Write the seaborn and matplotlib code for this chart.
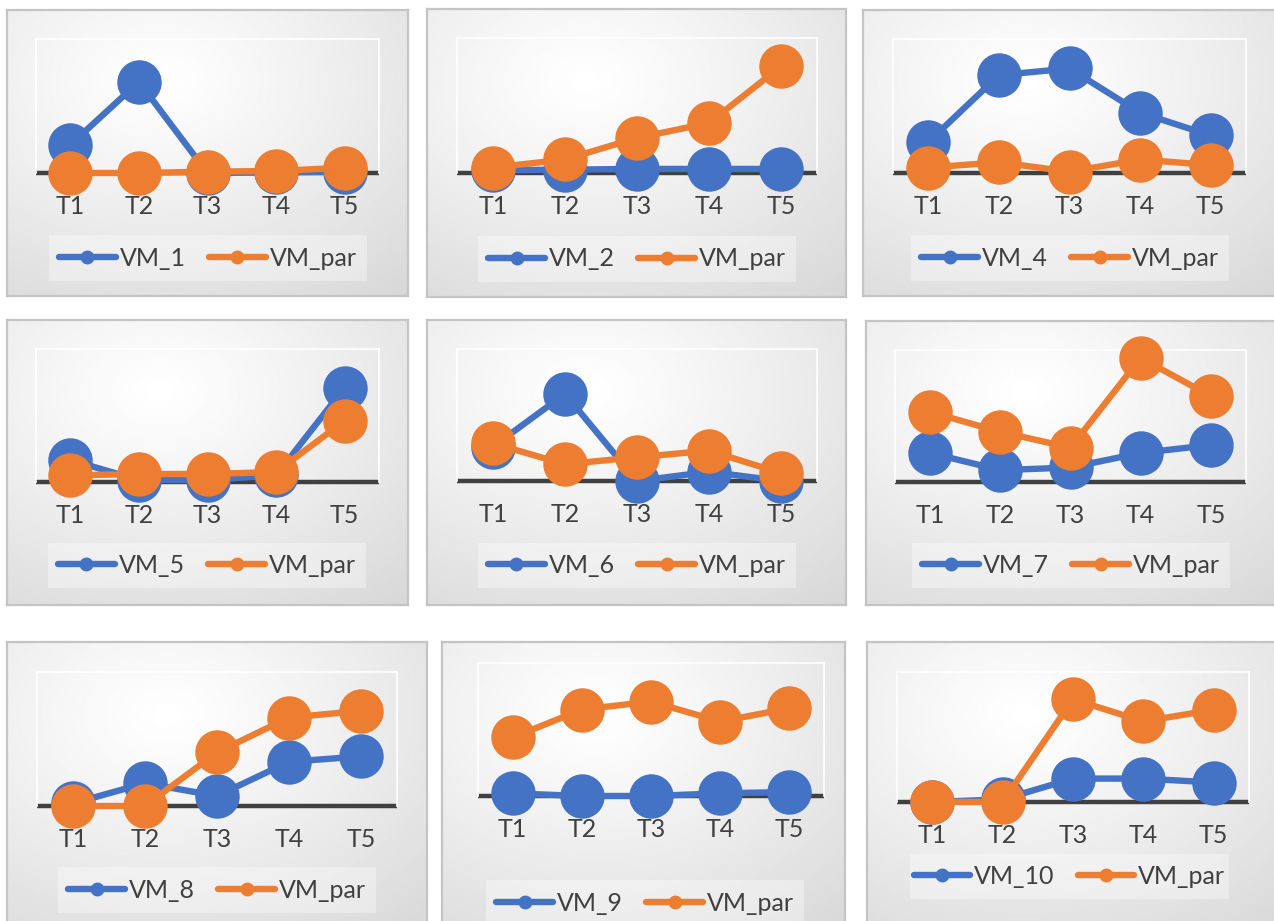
import numpy as np
import pandas as pd
import matplotlib
matplotlib.use("Agg")
import matplotlib.pyplot as plt
from matplotlib.lines import Line2D
from matplotlib.patches import Rectangle
import seaborn as sns

# ---- data -------------------------------------------------------------
categories = ["T1", "T2", "T3", "T4", "T5"]
par_label = "VM_par"

vm_1 = [0.21, 0.68, 0.00, 0.005, 0.01]
par_1 = [0.00, 0.00, 0.01, 0.015, 0.04]

vm_2 = [0.02, 0.025, 0.03, 0.03, 0.03]
par_2 = [0.04, 0.10, 0.26, 0.37, 0.79]

vm_4 = [0.23, 0.73, 0.78, 0.45, 0.28]
par_4 = [0.04, 0.08, 0.01, 0.10, 0.06]

vm_5 = [0.165, 0.015, 0.015, 0.05, 0.71]
par_5 = [0.05, 0.06, 0.06, 0.075, 0.46]

vm_6 = [0.26, 0.66, 0.00, 0.07, 0.00]
par_6 = [0.285, 0.127, 0.18, 0.23, 0.06]

vm_7 = [0.22, 0.09, 0.11, 0.22, 0.28]
par_7 = [0.53, 0.38, 0.26, 0.94, 0.65]

vm_8 = [0.02, 0.17, 0.075, 0.33, 0.37]
par_8 = [0.00, 0.00, 0.40, 0.66, 0.71]

vm_9 = [0.02, 0.00, 0.00, 0.02, 0.03]
par_9 = [0.44, 0.65, 0.71, 0.56, 0.66]

vm_10 = [0.00, 0.02, 0.18, 0.18, 0.15]
par_10 = [0.00, 0.00, 0.79, 0.62, 0.71]

vm_labels = ["VM_1", "VM_2", "VM_4", "VM_5", "VM_6",
             "VM_7", "VM_8", "VM_9", "VM_10"]
vm_series = [vm_1, vm_2, vm_4, vm_5, vm_6, vm_7, vm_8, vm_9, vm_10]
par_series = [par_1, par_2, par_4, par_5, par_6, par_7, par_8, par_9, par_10]

# ---- layout (pixel boxes: x0, y0, x1, y1) -----------------------------
W, H = 1274, 921
chart_boxes = [(7, 10, 408, 296), (427, 9, 846, 297), (863, 10, 1285, 296),
               (7, 320, 408, 605), (427, 320, 846, 605), (866, 321, 1285, 605),
               (7, 642, 427, 935), (442, 642, 845, 935), (867, 642, 1285, 935)]
plot_boxes = [(36, 39, 379, 173), (457, 38, 817, 173), (893, 39, 1246, 173),
              (36, 349, 379, 482), (457, 349, 817, 481), (895, 350, 1246, 482),
              (37, 672, 397, 806), (478, 663, 824, 796), (897, 672, 1249, 802)]
legend_boxes = [(49, 235, 367, 281), (478, 236, 796, 282), (911, 235, 1229, 281),
                (48, 543, 366, 588), (478, 543, 796, 588), (912, 543, 1230, 588),
                (58, 867, 376, 913), (486, 880, 804, 926), (910, 854, 1229, 899)]

BLUE = "#4472C4"
ORANGE = "#ED7D31"
TEXT = "#404040"
FONT = ["Lato", "DejaVu Sans"]
FS = 18

sns.set_theme(style="white")
plt.rcParams["font.family"] = FONT


def frac(box):
    x0, y0, x1, y1 = box
    return [x0 / W, 1 - y1 / H, (x1 - x0) / W, (y1 - y0) / H]


# soft radial shading used for every chart area
yy, xx = np.mgrid[0:1:300j, 0:1:300j]
dist = np.sqrt((xx - 0.38) ** 2 + (yy - 0.25) ** 2) / 0.99
shade = 1 - 0.16 * np.clip(dist, 0, 1) ** 1.1

fig = plt.figure(figsize=(W / 100, H / 100), dpi=100)
fig.patch.set_facecolor("white")

for i in range(9):
    # chart area background
    bg = fig.add_axes(frac(chart_boxes[i]), zorder=0)
    bg.imshow(shade, extent=[0, 1, 0, 1], aspect="auto", cmap="gray",
              vmin=0, vmax=1, interpolation="bilinear")
    bg.set_xticks([])
    bg.set_yticks([])
    for s in bg.spines.values():
        s.set_color("#c4c4c4")
        s.set_linewidth(1.6)

    # plot area with the two series
    ax = fig.add_axes(frac(plot_boxes[i]), zorder=1)
    ax.patch.set_alpha(0)
    df = pd.DataFrame({
        "period": categories * 2,
        "value": vm_series[i] + par_series[i],
        "series": [vm_labels[i]] * 5 + [par_label] * 5,
    })
    sns.lineplot(data=df, x="period", y="value", hue="series",
                 palette=[BLUE, ORANGE], marker="o", markersize=32,
                 markeredgewidth=0, linewidth=4.6, sort=False,
                 legend=False, errorbar=None, ax=ax, clip_on=False,
                 zorder=3)
    # zero line along the bottom of the plot area
    ax.axhline(0, color=TEXT, lw=3.2, zorder=1, solid_capstyle="butt",
               clip_on=False)
    ax.set_xlim(-0.5, 4.5)
    ax.set_ylim(0, 1)
    ax.set_xlabel("")
    ax.set_ylabel("")
    ax.set_yticks([])
    ax.tick_params(axis="x", length=0, pad=16, labelsize=FS,
                   labelcolor=TEXT)
    for side in ("left", "right", "top"):
        ax.spines[side].set_color("white")
        ax.spines[side].set_linewidth(1.2)
    ax.spines["bottom"].set_visible(False)

    # legend panel
    lx0, ly0, lx1, ly1 = legend_boxes[i]
    fig.add_artist(Rectangle((lx0 / W, 1 - ly1 / H), (lx1 - lx0) / W,
                             (ly1 - ly0) / H, transform=fig.transFigure,
                             facecolor="white", alpha=0.35, edgecolor="none",
                             zorder=2))
    handles = [Line2D([], [], color=BLUE, lw=4.6, marker="o", markersize=9),
               Line2D([], [], color=ORANGE, lw=4.6, marker="o", markersize=9)]
    fig.legend(handles, [vm_labels[i], par_label], loc="center",
               bbox_to_anchor=((lx0 + lx1) / 2 / W, 1 - (ly0 + ly1) / 2 / H),
               bbox_transform=fig.transFigure, ncol=2, frameon=False,
               fontsize=FS, labelcolor=TEXT, handlelength=2.25,
               handletextpad=0.16, columnspacing=0.95, borderpad=0)

fig.savefig("out.png", dpi=100, facecolor="white")
